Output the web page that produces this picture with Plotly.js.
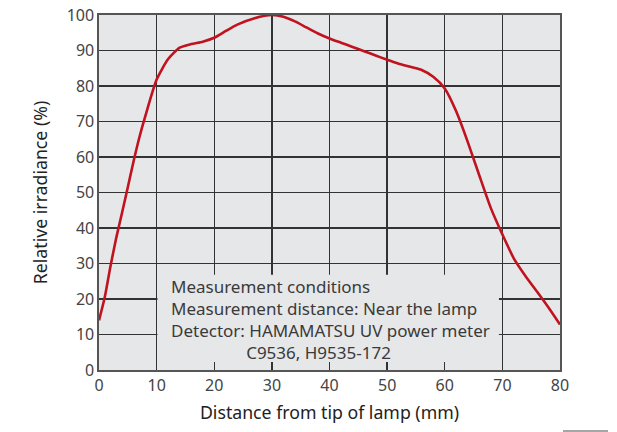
<!DOCTYPE html>
<html>
<head>
<meta charset="utf-8">
<script src="https://cdn.plot.ly/plotly-3.0.1.min.js"></script>
<style>html,body{margin:0;padding:0;background:#fff;}#chart{width:617px;height:432px;}</style>
</head>
<body>
<div id="chart"></div>
<script>
const distance = [0,1,2,3,4,5,6,7,8,10,12,14,16,18,20,22,24,27,30,32,34,36,38,40,42,44,46,48,50,52,54,56,58,60,62,64,66,68,70,72,74,76,78,80];
const irradiance = [14,20.5,29.3,37.3,44.3,51.5,58.8,65.5,71.3,81.8,87.6,90.8,91.8,92.5,93.6,95.5,97.3,99.1,100,99.5,98.2,96.5,94.8,93.4,92.2,91.0,89.8,88.6,87.4,86.3,85.4,84.5,82.6,79.3,72.8,64.2,54.8,45.6,38.2,31.4,26.5,22.1,17.6,12.8];
const xTicks = [0,10,20,30,40,50,60,70,80];
const yTicks = [0,10,20,30,40,50,60,70,80,90,100];
const noteLines = ["Measurement conditions","Measurement distance: Near the lamp","Detector: HAMAMATSU UV power meter","C9536, H9535-172"];
const noteIndent = [0,0,0,17];

const font = "Noto Sans, Open Sans, sans-serif";
const noteText = noteLines.map((t,i)=>'&nbsp;'.repeat(noteIndent[i]) + t).join('<br>');
const annotations = [{
  x: 12.33, y: 14.3, xref:'x', yref:'y', text: noteText, showarrow:false,
  xanchor:'left', yanchor:'middle', align:'left', borderpad:0,
  font:{family:font,size:17,color:'#3a3a3a'}
}];

const trace = {x: distance, y: irradiance, type:'scatter', mode:'lines',
  line:{color:'#c0121f', width:2.6, shape:'spline', smoothing:0.6}, hoverinfo:'none'};

const layout = {
  width:617, height:432,
  margin:{l:99, r:57, t:15, b:62},
  paper_bgcolor:'#ffffff', plot_bgcolor:'#e6e7e8',
  showlegend:false,
  font:{family:font, color:'#3a3a3a'},
  xaxis:{range:[0,80], tickvals:xTicks, ticktext:xTicks.map(String), showgrid:true, gridcolor:'#333333', gridwidth:1.4,
    zeroline:false, showline:true, linecolor:'#555', linewidth:1.6, mirror:true, ticks:'',
    tickfont:{size:16,color:'#444'},
    title:{text:'Distance from tip of lamp (mm)', font:{size:17.7,color:'#222'}, standoff:12}},
  yaxis:{range:[0,100], tickvals:yTicks, ticktext:yTicks.map(String), showgrid:true, gridcolor:'#333333', gridwidth:1.4,
    zeroline:false, showline:true, linecolor:'#555', linewidth:1.6, mirror:true, ticks:'',
    tickfont:{size:16,color:'#444'},
    title:{text:'Relative irradiance (%)', font:{size:17.7,color:'#222'}, standoff:14}},
  shapes:[
    {type:'rect', xref:'x', yref:'y', x0:10.15, x1:69.4, y0:2.25, y1:26.8, fillcolor:'#e6e7e8', line:{width:0}, layer:'between'},
    {type:'line', xref:'paper', yref:'paper', x0:(563-99)/461, x1:(608-99)/461, y0:(370-431)/355, y1:(370-431)/355, line:{color:'#888', width:1.5}}
  ],
  annotations: annotations
};
Plotly.newPlot('chart',[trace],layout,{displayModeBar:false, staticPlot:true});
</script>
</body>
</html>
